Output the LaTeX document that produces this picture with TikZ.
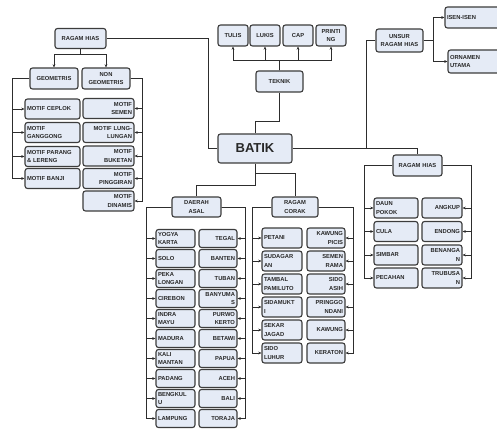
\documentclass[tikz,border=0pt]{standalone}
\usepackage{fontspec}
\setmainfont{Liberation Sans}
\usetikzlibrary{arrows.meta}

\definecolor{boxfill}{RGB}{229,235,246}
\definecolor{boxedge}{RGB}{60,60,60}
\definecolor{linkgray}{RGB}{45,45,45}
\definecolor{txtgray}{RGB}{40,40,40}

\begin{document}
\begin{tikzpicture}[x=1pt, y=-1pt,
        box/.style={draw=boxedge, fill=boxfill, line width=1.1pt, rounded corners=2.5pt,
            inner xsep=2pt, inner ysep=1pt, text=txtgray,
            font=\bfseries\fontsize{5.8}{8.8}\selectfont},
        link/.style={draw=linkgray, line width=0.8pt},
        arr/.style={link, -{Stealth[length=3.2pt, width=2.8pt]}}]
                \useasboundingbox (0,0) rectangle (497,430);
                \clip (0,0) rectangle (497,430);

                % pokok dan cabang utama
                \begin{scope}[every node/.style={box, align=center, minimum height=20pt}]
                    \node[minimum width=74pt, minimum height=29pt, font=\bfseries\fontsize{13}{15}\selectfont] (batik) at (255,148.5) {BATIK};
                    \node[text width=47pt] (rhl) at (80.5,38.5) {RAGAM HIAS};
                    \node[text width=44pt, minimum height=21pt] (geo) at (54,78.5) {GEOMETRIS};
                    \node[text width=44pt, minimum height=21pt] (nongeo) at (106,78.5) {NON\\GEOMETRIS};
                    \node[text width=43pt, minimum height=21pt] (teknik) at (279.5,81.5) {TEKNIK};
                    \node[text width=26pt, minimum height=21pt] (tulis) at (233,35.5) {TULIS};
                    \node[text width=26pt, minimum height=21pt] (lukis) at (265,35.5) {LUKIS};
                    \node[text width=26pt, minimum height=21pt] (cap) at (298,35.5) {CAP};
                    \node[text width=26pt, minimum height=21pt] (printing) at (331,35.5) {PRINTI\\NG};
                    \node[text width=43pt, minimum height=23pt] (unsur) at (399.5,40.5) {UNSUR\\RAGAM HIAS};
                    \node[text width=45pt] (daerah) at (196.5,207) {DAERAH\\ASAL};
                    \node[text width=42pt] (corak) at (295,207) {RAGAM\\CORAK};
                    \node[text width=45pt, minimum height=21pt] (rhr) at (417.5,165.5) {RAGAM HIAS};
                \end{scope}

                \begin{scope}[every node/.style={box, align=left, text width=56pt}]
                    \node[minimum height=21pt] (isen) at (475,17.5) {ISEN-ISEN};
                    \node[minimum height=23pt] (ornamen) at (478,61.5) {ORNAMEN\\UTAMA};
                \end{scope}

                % geometris
                \begin{scope}[every node/.style={box, align=left, text width=51pt, minimum height=20pt}]
                    \node (ceplok) at (52.5,109) {MOTIF CEPLOK};
                    \node (ganggong) at (52.5,132.5) {MOTIF\\GANGGONG};
                    \node (parang) at (52.5,156.5) {MOTIF PARANG\\\& LERENG};
                    \node (banji) at (52.5,178.5) {MOTIF BANJI};
                \end{scope}

                % non geometris
                \begin{scope}[every node/.style={box, align=right, text width=47pt, minimum height=20pt}]
                    \node (motsemen) at (108.5,108.5) {MOTIF\\SEMEN};
                    \node (lunglung) at (108.5,132.5) {MOTIF LUNG-\\LUNGAN};
                    \node (buketan) at (108.5,156) {MOTIF\\BUKETAN};
                    \node (pinggiran) at (108.5,178.5) {MOTIF\\PINGGIRAN};
                    \node (dinamis) at (108.5,201) {MOTIF\\DINAMIS};
                \end{scope}

                % daerah asal
                \begin{scope}[every node/.style={box, align=left, text width=35pt, minimum height=18pt}]
                    \node (yogya) at (175.5,238.5) {YOGYA\\KARTA};
                    \node (solo) at (175.5,258.5) {SOLO};
                    \node (pekalongan) at (175.5,278.5) {PEKA\\LONGAN};
                    \node (cirebon) at (175.5,298.5) {CIREBON};
                    \node (indramayu) at (175.5,318.5) {INDRA\\MAYU};
                    \node (madura) at (175.5,338.5) {MADURA};
                    \node (kalimantan) at (175.5,358.5) {KALI\\MANTAN};
                    \node (padang) at (175.5,378.5) {PADANG};
                    \node (bengkulu) at (175.5,398.5) {BENGKUL\\U};
                    \node (lampung) at (175.5,418.5) {LAMPUNG};
                \end{scope}
                \begin{scope}[every node/.style={box, align=right, text width=34pt, minimum height=18pt}]
                    \node (tegal) at (218,238.5) {TEGAL};
                    \node (banten) at (218,258.5) {BANTEN};
                    \node (tuban) at (218,278.5) {TUBAN};
                    \node (banyumas) at (218,298.5) {BANYUMA\\S};
                    \node (purwokerto) at (218,318.5) {PURWO\\KERTO};
                    \node (betawi) at (218,338.5) {BETAWI};
                    \node (papua) at (218,358.5) {PAPUA};
                    \node (aceh) at (218,378.5) {ACEH};
                    \node (bali) at (218,398.5) {BALI};
                    \node (toraja) at (218,418.5) {TORAJA};
                \end{scope}

                % ragam corak
                \begin{scope}[every node/.style={box, align=left, text width=36pt, minimum height=20pt}]
                    \node (petani) at (282,238) {PETANI};
                    \node (sudagaran) at (282,261) {SUDAGAR\\AN};
                    \node (tambal) at (282,284) {TAMBAL\\PAMILUTO};
                    \node (sidamukti) at (282,307) {SIDAMUKT\\I};
                    \node (sekar) at (282,330) {SEKAR\\JAGAD};
                    \node (sidoluhur) at (282,353) {SIDO\\LUHUR};
                \end{scope}
                \begin{scope}[every node/.style={box, align=right, text width=34pt, minimum height=20pt}]
                    \node (kawpicis) at (326,238) {KAWUNG\\PICIS};
                    \node (semenrama) at (326,261) {SEMEN\\RAMA};
                    \node (sidoasih) at (326,284) {SIDO\\ASIH};
                    \node (pringgodani) at (326,307) {PRINGGO\\NDANI};
                    \node (kawung) at (326,330) {KAWUNG};
                    \node (keraton) at (326,353) {KERATON};
                \end{scope}

                % ragam hias kanan
                \begin{scope}[every node/.style={box, align=left, text width=40pt, minimum height=20pt}]
                    \node (daun) at (396,208) {DAUN\\POKOK};
                    \node (cula) at (396,231.5) {CULA};
                    \node (simbar) at (396,255) {SIMBAR};
                    \node (pecahan) at (396,278) {PECAHAN};
                \end{scope}
                \begin{scope}[every node/.style={box, align=right, text width=36pt, minimum height=20pt}]
                    \node (angkup) at (442,208) {ANGKUP};
                    \node (endong) at (442,231.5) {ENDONG};
                    \node (benangan) at (442,255) {BENANGA\\N};
                    \node (trubusan) at (442,278) {TRUBUSA\\N};
                \end{scope}

                % batik ke cabang
                \draw[link] (batik.west) -- ++(-9,0) |- (rhl.east);
                \draw[link] (batik.north) -- ++(0,-12) -| (teknik.south);
                \draw[link] (batik.east) -| (rhr.north);
                \draw[link] (unsur.west) -- ++(-9,0) |- (batik.east);
                \draw[link] (batik.south) -- ++(0,22) -| (daerah.north);
                \draw[link] (batik.south) -- ++(0,10) -| (corak.north);

                % teknik
                \draw[arr] (teknik.north) -- ++(0,-10) -| (tulis.south);
                \draw[arr] (teknik.north) -- ++(0,-10) -| (lukis.south);
                \draw[arr] (teknik.north) -- ++(0,-10) -| (cap.south);
                \draw[arr] (teknik.north) -- ++(0,-10) -| (printing.south);

                % unsur ragam hias
                \draw[arr] (unsur.east) -- ++(10,0) |- (isen.west);
                \draw[arr] (unsur.east) -- ++(10,0) |- (ornamen.west);

                % ragam hias kiri
                \draw[arr] (rhl.south) -- ++(0,5) -| (geo.north);
                \draw[arr] (rhl.south) -- ++(0,5) -| (nongeo.north);
                \draw[arr] (geo.west) -- ++(-17,0) |- (ceplok.west);
                \draw[arr] (geo.west) -- ++(-17,0) |- (ganggong.west);
                \draw[arr] (geo.west) -- ++(-17,0) |- (parang.west);
                \draw[arr] (geo.west) -- ++(-17,0) |- (banji.west);
                \draw[arr] (nongeo.east) -- ++(12,0) |- (motsemen.east);
                \draw[arr] (nongeo.east) -- ++(12,0) |- (lunglung.east);
                \draw[arr] (nongeo.east) -- ++(12,0) |- (buketan.east);
                \draw[arr] (nongeo.east) -- ++(12,0) |- (pinggiran.east);
                \draw[arr] (nongeo.east) -- ++(12,0) |- (dinamis.east);

                % daerah asal
                \draw[arr] (daerah.west) -- ++(-25,0) |- (yogya.west);
                \draw[arr] (daerah.west) -- ++(-25,0) |- (solo.west);
                \draw[arr] (daerah.west) -- ++(-25,0) |- (pekalongan.west);
                \draw[arr] (daerah.west) -- ++(-25,0) |- (cirebon.west);
                \draw[arr] (daerah.west) -- ++(-25,0) |- (indramayu.west);
                \draw[arr] (daerah.west) -- ++(-25,0) |- (madura.west);
                \draw[arr] (daerah.west) -- ++(-25,0) |- (kalimantan.west);
                \draw[arr] (daerah.west) -- ++(-25,0) |- (padang.west);
                \draw[arr] (daerah.west) -- ++(-25,0) |- (bengkulu.west);
                \draw[arr] (daerah.west) -- ++(-25,0) |- (lampung.west);
                \draw[arr] (daerah.east) -- ++(24,0) |- (tegal.east);
                \draw[arr] (daerah.east) -- ++(24,0) |- (banten.east);
                \draw[arr] (daerah.east) -- ++(24,0) |- (tuban.east);
                \draw[arr] (daerah.east) -- ++(24,0) |- (banyumas.east);
                \draw[arr] (daerah.east) -- ++(24,0) |- (purwokerto.east);
                \draw[arr] (daerah.east) -- ++(24,0) |- (betawi.east);
                \draw[arr] (daerah.east) -- ++(24,0) |- (papua.east);
                \draw[arr] (daerah.east) -- ++(24,0) |- (aceh.east);
                \draw[arr] (daerah.east) -- ++(24,0) |- (bali.east);
                \draw[arr] (daerah.east) -- ++(24,0) |- (toraja.east);

                % ragam corak
                \draw[arr] (corak.west) -- ++(-19,0) |- (petani.west);
                \draw[arr] (corak.west) -- ++(-19,0) |- (sudagaran.west);
                \draw[arr] (corak.west) -- ++(-19,0) |- (tambal.west);
                \draw[arr] (corak.west) -- ++(-19,0) |- (sidamukti.west);
                \draw[arr] (corak.west) -- ++(-19,0) |- (sekar.west);
                \draw[arr] (corak.west) -- ++(-19,0) |- (sidoluhur.west);
                \draw[arr] (corak.east) -- ++(35,0) |- (kawpicis.east);
                \draw[arr] (corak.east) -- ++(35,0) |- (semenrama.east);
                \draw[arr] (corak.east) -- ++(35,0) |- (sidoasih.east);
                \draw[arr] (corak.east) -- ++(35,0) |- (pringgodani.east);
                \draw[arr] (corak.east) -- ++(35,0) |- (kawung.east);
                \draw[arr] (corak.east) -- ++(35,0) |- (keraton.east);

                % ragam hias kanan
                \draw[arr] (rhr.west) -- ++(-28,0) |- (daun.west);
                \draw[arr] (rhr.west) -- ++(-28,0) |- (cula.west);
                \draw[arr] (rhr.west) -- ++(-28,0) |- (simbar.west);
                \draw[arr] (rhr.west) -- ++(-28,0) |- (pecahan.west);
                \draw[arr] (rhr.east) -- ++(29,0) |- (angkup.east);
                \draw[arr] (rhr.east) -- ++(29,0) |- (endong.east);
                \draw[arr] (rhr.east) -- ++(29,0) |- (benangan.east);
                \draw[arr] (rhr.east) -- ++(29,0) |- (trubusan.east);
            \end{tikzpicture}
\end{document}
